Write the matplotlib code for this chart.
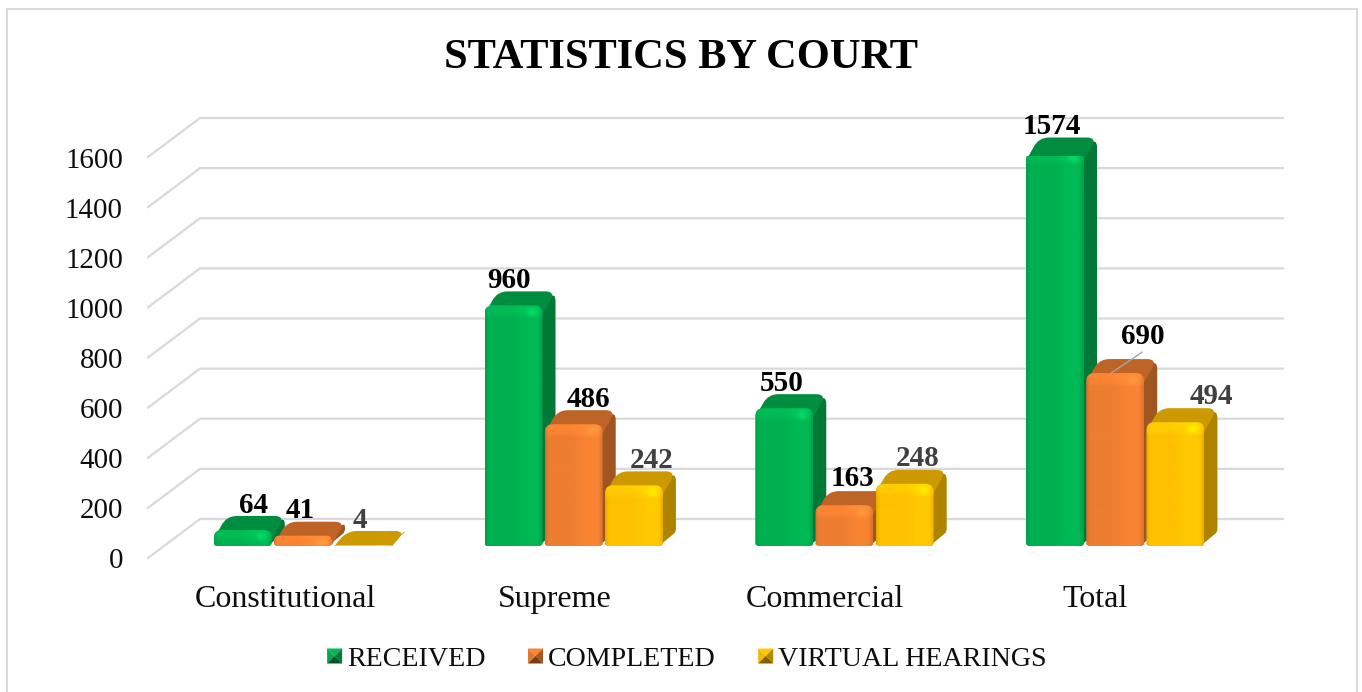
import numpy as np
import matplotlib
matplotlib.use("Agg")
import matplotlib.pyplot as plt
from matplotlib.legend_handler import HandlerBase
from matplotlib.patches import PathPatch, Polygon, Rectangle
from matplotlib.path import Path
from matplotlib.transforms import Affine2D

plt.rcParams['font.family'] = ['Liberation Serif', 'DejaVu Serif']

# data
courts = ["Constitutional", "Supreme", "Commercial", "Total"]
received = [64, 960, 550, 1574]
completed = [41, 486, 163, 690]
virtual_hearings = [4, 242, 248, 494]
series_names = ["RECEIVED", "COMPLETED", "VIRTUAL HEARINGS"]
yticks = [0, 200, 400, 600, 800, 1000, 1200, 1400, 1600]

# styles
colors = ["#00B050", "#ED7D31", "#FFC000"]
label_colors = ["black", "black", "#404040"]
grid_color = "#D9D9D9"

W, H = 1362, 692
LEFT, RIGHT = 150, 1233
Y0, Y1600 = 557, 156
PX_X = (RIGHT - LEFT) / 4          # pixels per category
PX_Y = (Y0 - Y1600) / 1600         # pixels per unit

BAR_STEP = 60.2 / PX_X
BAR_W = 58 / PX_X
GROUP_SHIFT = 17.6 / PX_X
BASE = 11 / PX_Y                   # bars stand a bit inside the floor
DEPTH_X = 13 / PX_X
DEPTH_Y = 14 / PX_Y
FLOOR_X = 50 / PX_X
FLOOR_Y = 38 / PX_Y

# label offsets from the top middle of each bar front, pixels
label_offsets = [
    [(11, 24), (-4, 25), (-3, 24.5), (-3, 25.5)],
    [(-3, 25), (15, 25), (8, 27), (28, 37)],
    [(-3, 24), (18, 24.5), (13, 25), (36, 25.5)],
]


def shade(color, factor):
    rgb = np.array(matplotlib.colors.to_rgb(color))
    return tuple(np.clip(rgb * factor, 0, 1))


def rounded(points, radii):
    # closed path through the points, corners rounded, radii in pixels
    verts, codes = [], []
    n = len(points)
    for i in range(n):
        p = np.array(points[i])
        a = np.array(points[i - 1])
        b = np.array(points[(i + 1) % n])
        la = np.hypot((a[0] - p[0]) * PX_X, (a[1] - p[1]) * PX_Y)
        lb = np.hypot((b[0] - p[0]) * PX_X, (b[1] - p[1]) * PX_Y)
        start = p + (a - p) * min(0.5, radii[i] / max(la, 1e-6))
        end = p + (b - p) * min(0.5, radii[i] / max(lb, 1e-6))
        verts.append(start)
        codes.append(Path.MOVETO if i == 0 else Path.LINETO)
        verts += [p, end]
        codes += [Path.CURVE3, Path.CURVE3]
    verts.append(verts[0])
    codes.append(Path.CLOSEPOLY)
    return Path(verts, codes)


def front_image(color, w_px, h_px):
    # horizontal shading, a lighter band at the top and a glint at right
    nx, ny = max(int(w_px), 2), max(int(h_px), 2)
    u = np.linspace(0, 1, nx)
    prof = np.interp(u, [0, 0.06, 0.45, 0.72, 0.92, 1], [0.9, 1, 1, 1.05, 1.05, 0.92])
    y_px = np.linspace(0, h_px, ny)     # row 0 is the top of the bar
    band = np.interp(y_px, [0, 3, 10, 13], [0.06, 0.07, 0.04, 0])
    fac = prof[None, :] + band[:, None]
    xx, yy = np.meshgrid(u * w_px, y_px)
    fac = fac + 0.15 * np.exp(-(((xx - 0.82 * w_px) / 5) ** 2 + ((yy - 7) / 4) ** 2))
    rgb = np.array(matplotlib.colors.to_rgb(color))
    return np.clip(fac[:, :, None] * rgb, 0, 1)


def draw_bar(ax, xc, value, color, z):
    x0, x1 = xc - BAR_W / 2, xc + BAR_W / 2
    top = BASE + value
    under = max(BASE, top - 9 / PX_Y)   # roof runs on behind the rounded front corners
    side = [(x1 - 4 / PX_X, BASE), (x1 + DEPTH_X, BASE + DEPTH_Y),
            (x1 + DEPTH_X, top + DEPTH_Y), (x1 - 4 / PX_X, top)]
    roof = [(x0, under), (x0 + DEPTH_X, top + DEPTH_Y), (x1 + DEPTH_X, top + DEPTH_Y), (x1, under)]
    ax.add_patch(PathPatch(rounded(side, [0, 3, 10, 0]), fc=shade(color, 0.68), ec="none",
                           zorder=z, clip_on=False))
    ax.add_patch(PathPatch(rounded(roof, [4, 10, 10, 0]), fc=shade(color, 0.8), ec="none",
                           zorder=z + 0.1, clip_on=False))
    front = [(x0, BASE), (x0, top), (x1, top), (x1, BASE)]
    h_px = value * PX_Y
    r = min(8, max(h_px / 2, 1))
    clip = PathPatch(rounded(front, [min(r, 3), r, r, min(r, 3)]), fc="none", ec="none",
                     transform=ax.transData)
    ax.add_patch(clip)
    im = ax.imshow(front_image(color, BAR_W * PX_X, h_px), extent=(x0, x1, BASE, top),
                   aspect="auto", origin="upper", zorder=z + 0.2, interpolation="bilinear")
    im.set_clip_path(clip)


class BevelHandler(HandlerBase):
    # small square with four shaded faces, like the legend keys of a 3D chart
    def create_artists(self, legend, orig, xd, yd, width, height, fontsize, trans):
        c = orig.get_facecolor()
        s = 15 * 0.72
        x0, y0 = xd * -1, yd * -1 + (height - s) / 2
        x1, y1 = x0 + s, y0 + s
        m = ((x0 + x1) / 2, (y0 + y1) / 2)
        faces = [
            ([(x0, y1), (x1, y1), m], 1.05),
            ([(x0, y0), (x0, y1), m], 0.95),
            ([(x1, y0), (x1, y1), m], 0.7),
            ([(x0, y0), (x1, y0), m], 0.5),
        ]
        return [Polygon(pts, closed=True, fc=shade(c, f), ec="none", transform=trans) for pts, f in faces]


fig = plt.figure(figsize=(W / 100, H / 100), dpi=100, facecolor="white")
ax = fig.add_axes([LEFT / W, 1 - Y0 / H, (RIGHT - LEFT) / W, (Y0 - Y1600) / H])

# chart area border, its bottom edge falls off the picture
fig.add_artist(Rectangle((7 / W, 1 - 696 / H), 1350 / W, 687 / H, transform=fig.transFigure,
                         fc="none", ec="#D9D9D9", lw=1.4))

# walls and floor lines
for v in yticks:
    ax.plot([-0.5 - 2 / PX_X, -0.5 + FLOOR_X, 3.5 + FLOOR_X], [v - 1 / PX_Y, v + FLOOR_Y, v + FLOOR_Y],
            color=grid_color, lw=1.6, clip_on=False, zorder=1, solid_joinstyle="miter")

x = np.arange(len(courts))
all_series = [received, completed, virtual_hearings]
for i, vals in enumerate(all_series):
    xs = x + GROUP_SHIFT + (i - 1) * BAR_STEP
    for xc, v, off in zip(xs, vals, label_offsets[i]):
        draw_bar(ax, xc, v, colors[i], 3 + i)
        ax.annotate(str(v), xy=(xc, BASE + v), xytext=off, textcoords="offset pixels",
                    ha="center", va="center", fontsize=21, fontweight="bold",
                    color=label_colors[i], zorder=8, annotation_clip=False)
        if v == 690:
            # leader line of the moved label
            ax.annotate("", xy=(xc - 4 / PX_X, BASE + v), xytext=(31, 21), textcoords="offset pixels",
                        arrowprops=dict(arrowstyle="-", color="#A6A6A6", lw=1, shrinkA=0, shrinkB=0),
                        zorder=8, annotation_clip=False)

ax.set_xlim(-0.5, 3.5)
ax.set_ylim(0, 1600)
ax.set_xticks(x * 0.9967, courts)
ax.set_yticks(yticks, [str(v) for v in yticks])
ax.tick_params(axis="x", length=0, pad=20.3, labelsize=23, colors="#0D0D0D")
ax.tick_params(axis="y", length=0, pad=19.5, labelsize=20.9, colors="#0D0D0D")
for lab in ax.get_yticklabels():
    lab.set_transform(lab.get_transform() + Affine2D().translate(0, -1.5))
for s in ax.spines.values():
    s.set_visible(False)
ax.patch.set_visible(False)

fig.text(681 / W, 1 - 58 / H, "STATISTICS BY COURT", ha="center", va="center",
         fontsize=30.6, fontweight="bold", color="black")

handles = [Rectangle((0, 0), 1, 1, fc=c) for c in colors]
fig.legend(handles, series_names, loc="center", bbox_to_anchor=(687 / W, 1 - 659 / H), ncol=3,
           frameon=False, fontsize=20.2, handler_map={Rectangle: BevelHandler()},
           handlelength=0.535, handletextpad=0.18, columnspacing=1.51, labelcolor="#0D0D0D")

fig.savefig("out.png", dpi=100)
